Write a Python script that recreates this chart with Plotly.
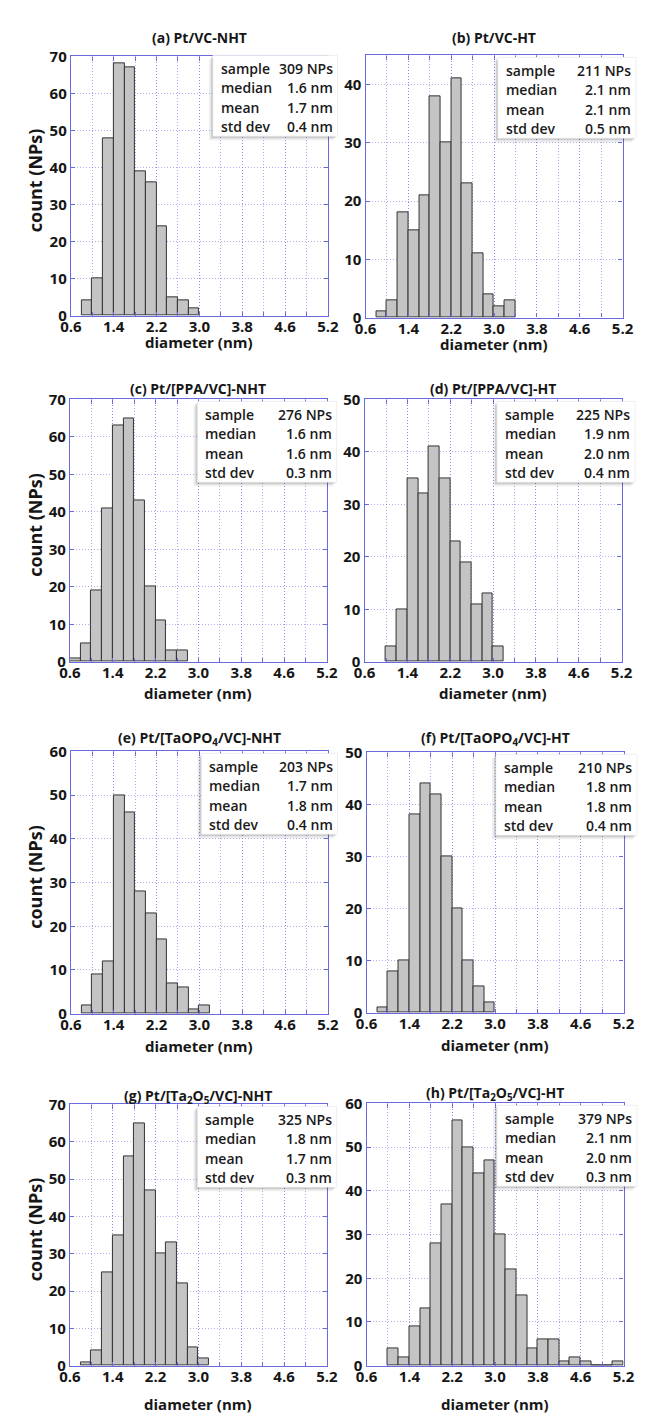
import plotly.graph_objects as go

# ---- data -------------------------------------------------------------
titles = [
    "(a) Pt/VC-NHT",
    "(b) Pt/VC-HT",
    "(c) Pt/[PPA/VC]-NHT",
    "(d) Pt/[PPA/VC]-HT",
    "(e) Pt/[TaOPO<sub>4</sub>/VC]-NHT",
    "(f) Pt/[TaOPO<sub>4</sub>/VC]-HT",
    "(g) Pt/[Ta<sub>2</sub>O<sub>5</sub>/VC]-NHT",
    "(h) Pt/[Ta<sub>2</sub>O<sub>5</sub>/VC]-HT",
]

# left edge of the first histogram bin (nm); bins are 0.2 nm wide
bin_start = [0.8, 0.8, 0.6, 1.0, 0.8, 0.8, 0.8, 1.0]
BIN_W = 0.2

counts_a = [4, 10, 48, 68, 67, 39, 36, 24, 5, 4, 2]
counts_b = [1, 3, 18, 15, 21, 38, 30, 41, 23, 11, 4, 2, 3]
counts_c = [1, 5, 19, 41, 63, 65, 43, 20, 11, 3, 3]
counts_d = [3, 10, 35, 32, 41, 35, 23, 19, 11, 13, 3]
counts_e = [2, 9, 12, 50, 46, 28, 23, 17, 7, 6, 1, 2]
counts_f = [1, 8, 10, 38, 44, 42, 30, 20, 10, 5, 2]
counts_g = [1, 4, 25, 35, 56, 65, 47, 30, 33, 22, 5, 2]
counts_h = [4, 2, 9, 13, 28, 37, 56, 50, 44, 47, 30, 22, 16, 4, 6, 6, 1, 2, 1, 0, 0, 1]
counts = [counts_a, counts_b, counts_c, counts_d, counts_e, counts_f, counts_g, counts_h]

n_sample = [309, 211, 276, 225, 203, 210, 325, 379]
median_nm = [1.6, 2.1, 1.6, 1.9, 1.7, 1.8, 1.8, 2.1]
mean_nm = [1.7, 2.1, 1.6, 2.0, 1.8, 1.8, 1.7, 2.0]
std_nm = [0.4, 0.5, 0.3, 0.4, 0.4, 0.4, 0.3, 0.3]
y_max = [70, 45, 70, 50, 60, 50, 70, 60]

x_tickvals = [0.6, 1.4, 2.2, 3.0, 3.8, 4.6, 5.4]
x_ticktext = ["0.6", "1.4", "2.2", "3.0", "3.8", "4.6", "5.2"]
stat_labels = ["sample", "median", "mean", "std dev"]

# ---- layout geometry (pixels) ----------------------------------------
W, H = 649, 1423
# (left, right, top, bottom) of every plot area
panels = [
    (62, 328, 46, 309), (367, 633, 45, 311),
    (61, 327, 394, 660), (366, 632, 394, 660),
    (62, 328, 751, 1017), (368, 634, 752, 1016),
    (61, 327, 1109, 1374), (368, 634, 1108, 1374),
]
title_off = [19, 18, 11, 11, 13, 14, 8, 10]
xtitle_off = [27, 27, 32, 32, 33, 33, 39, 39]
text_dx = [153, 143, 138, 143, 141, 140, 138, 141]
text_dy = [-3, 0, 0, 0, 0, 0, 0, 0]

BLUE = "#6a6ae0"
GRID = "rgba(120,120,235,0.6)"
GRID_DASH = "1px,2px"
FONT = "Open Sans"
INK = "#161616"


def fx(px):
    return px / W


def fy(py):
    return 1 - py / H


fig = go.Figure()
layout = dict(
    width=W, height=H, margin=dict(l=0, r=0, t=0, b=0),
    paper_bgcolor="white", plot_bgcolor="white", showlegend=False,
    bargap=0,
)
shapes, annotations = [], []

for i in range(8):
    sfx = "" if i == 0 else str(i + 1)
    left, right, top, bottom = panels[i]
    centers = [round(bin_start[i] + BIN_W * (k + 0.5), 3) for k in range(len(counts[i]))]
    fig.add_trace(go.Bar(
        x=centers, y=counts[i], width=BIN_W,
        xaxis="x" + sfx, yaxis="y" + sfx,
        marker=dict(color="#c4c4c4", line=dict(color="#333333", width=1)),
        hoverinfo="skip",
    ))

    tickfont = dict(family=FONT, size=15, color=INK, weight="bold")
    layout["xaxis" + sfx] = dict(
        domain=[fx(left), fx(right)], anchor="y" + sfx,
        range=[0.6, 5.4], tickvals=x_tickvals, ticktext=x_ticktext,
        showgrid=True, gridcolor=GRID, griddash=GRID_DASH, gridwidth=1,
        minor=dict(dtick=0.4, tick0=0.6, showgrid=True, gridcolor=GRID,
                   griddash=GRID_DASH, gridwidth=1, ticks="inside", ticklen=4,
                   tickcolor=BLUE),
        ticks="inside", ticklen=4, tickcolor=BLUE,
        showline=True, linecolor=BLUE, linewidth=1.3, mirror="ticks",
        zeroline=False, tickfont=tickfont, ticklabelstandoff=-3,
        fixedrange=True,
    )
    layout["yaxis" + sfx] = dict(
        domain=[fy(bottom), fy(top)], anchor="x" + sfx,
        range=[0, y_max[i]], dtick=10, tick0=0,
        showgrid=True, gridcolor=GRID, griddash=GRID_DASH, gridwidth=1,
        ticks="inside", ticklen=4, tickcolor=BLUE,
        showline=True, linecolor=BLUE, linewidth=1.3, mirror="ticks",
        zeroline=False, tickfont=tickfont, fixedrange=True,
    )

    cx = (left + right) / 2
    annotations.append(dict(
        xref="paper", yref="paper", x=fx(cx), y=fy(top - title_off[i]),
        text=titles[i], showarrow=False, xanchor="center", yanchor="middle",
        font=dict(family=FONT, size=14, color=INK, weight="bold"),
    ))
    annotations.append(dict(
        xref="paper", yref="paper", x=fx(cx), y=fy(bottom + xtitle_off[i]),
        text="diameter (nm)", showarrow=False, xanchor="center", yanchor="middle",
        font=dict(family=FONT, size=15, color=INK, weight="bold"),
    ))
    if i % 2 == 0:
        annotations.append(dict(
            xref="paper", yref="paper", x=fx(25), y=fy((top + bottom) / 2 - 6),
            text="count (NPs)", showarrow=False, textangle=-90,
            xanchor="center", yanchor="middle",
            font=dict(family=FONT, size=18, color=INK, weight="bold"),
        ))

    # statistics box with a soft drop shadow
    tx = left + text_dx[i]
    bl, bt = tx - 6, top + 2 + text_dy[i]
    br = right + (10 if i % 2 == 0 else 14)
    bb = top + 84 + text_dy[i]
    for off, alpha in ((4, 0.07), (2, 0.14)):
        shapes.append(dict(
            type="rect", xref="paper", yref="paper", layer="above",
            x0=fx(bl - off), x1=fx(br - off), y0=fy(bb + off), y1=fy(bt + off),
            fillcolor=f"rgba(0,0,0,{alpha})", line=dict(width=0),
        ))
    shapes.append(dict(
        type="rect", xref="paper", yref="paper", layer="above",
        x0=fx(bl), x1=fx(br), y0=fy(bb), y1=fy(bt),
        fillcolor="white", line=dict(color="#e4e4e4", width=0.6),
    ))
    values = [f"{n_sample[i]} NPs", f"{median_nm[i]:.1f} nm",
              f"{mean_nm[i]:.1f} nm", f"{std_nm[i]:.1f} nm"]
    vx = br - 3
    for r in range(4):
        ry = top + 15 + text_dy[i] + r * 19.7
        annotations.append(dict(
            xref="paper", yref="paper", x=fx(tx), y=fy(ry),
            text=stat_labels[r], showarrow=False, xanchor="left", yanchor="middle",
            font=dict(family=FONT, size=14, color="#1a1a1a", weight=600),
        ))
        annotations.append(dict(
            xref="paper", yref="paper", x=fx(vx), y=fy(ry),
            text=values[r], showarrow=False, xanchor="right", yanchor="middle",
            font=dict(family=FONT, size=14, color="#1a1a1a", weight=600),
        ))

layout["shapes"] = shapes
layout["annotations"] = annotations
fig.update_layout(**layout)
fig.write_html("out.html")
